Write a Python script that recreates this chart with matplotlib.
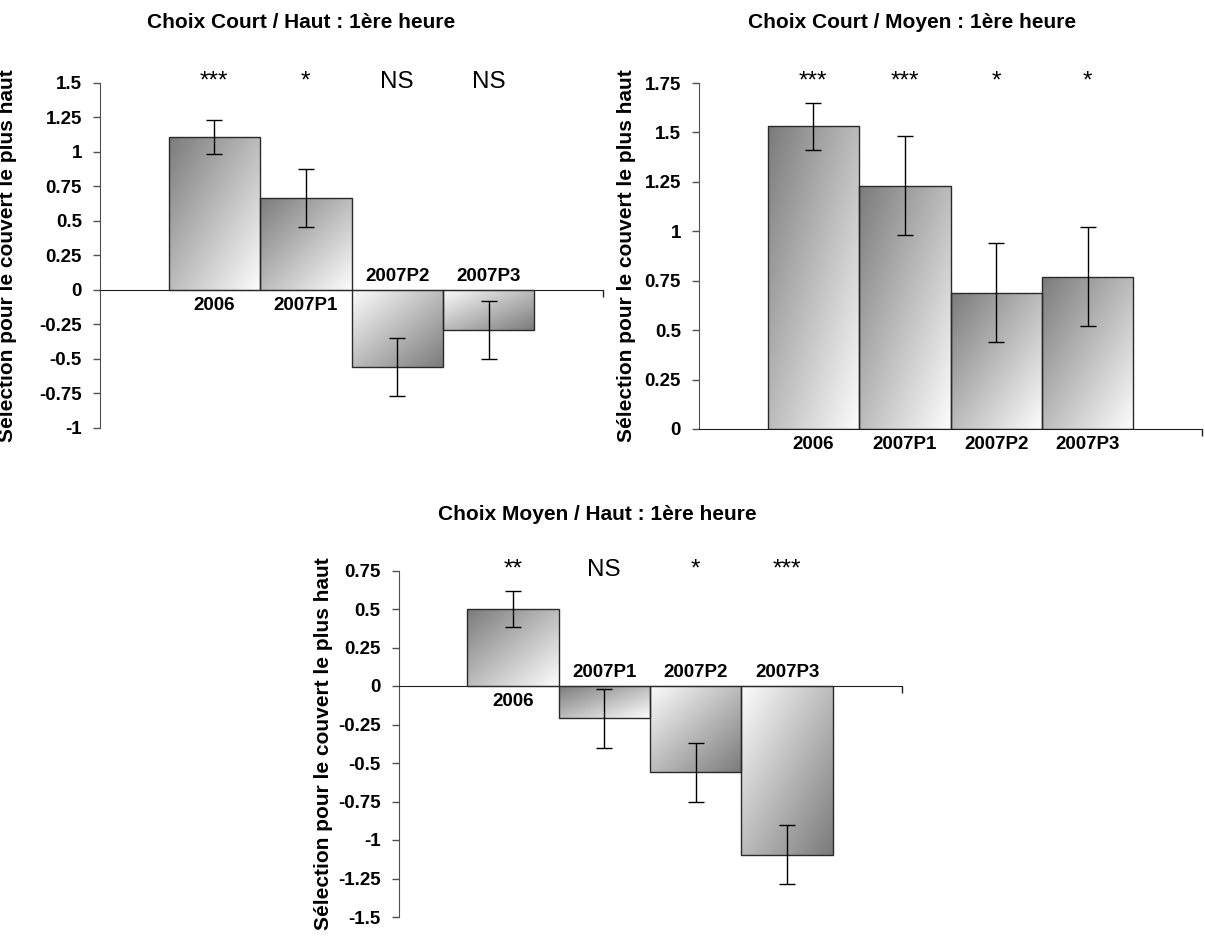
import numpy as np
import matplotlib.pyplot as plt
import matplotlib.transforms as mtransforms

plt.rcParams['font.family'] = ['Liberation Sans', 'DejaVu Sans']

# données
groups = ["2006", "2007P1", "2007P2", "2007P3"]
ylabel = "Sélection pour le couvert le plus haut"

court_haut = [1.11, 0.67, -0.555, -0.29]
court_haut_err = [0.125, 0.21, 0.21, 0.21]
court_haut_sig = ["***", "*", "NS", "NS"]

court_moyen = [1.53, 1.23, 0.69, 0.77]
court_moyen_err = [0.12, 0.25, 0.25, 0.25]
court_moyen_sig = ["***", "***", "*", "*"]

moyen_haut = [0.50, -0.21, -0.56, -1.095]
moyen_haut_err = [0.12, 0.19, 0.19, 0.19]
moyen_haut_sig = ["**", "NS", "*", "***"]


def gradient_fill(ax, bar, flip):
    x0, w = bar.get_x(), bar.get_width()
    y0, h = bar.get_y(), bar.get_height()
    bottom, top = min(y0, y0 + h), max(y0, y0 + h)
    u = np.linspace(0, 1, 200)
    gx, gy = np.meshgrid(u, u)
    t = (gx + gy) / 2
    if flip:
        t = 1 - t
    img = 0.48 + 0.51 * t
    im = ax.imshow(img, cmap="gray", vmin=0, vmax=1, origin="upper",
                   extent=(x0, x0 + w, bottom, top), aspect="auto",
                   interpolation="bilinear", zorder=2)
    im.set_clip_path(bar)


def draw_panel(ax, values, errors, sig, ylim, flips, title, title_x, title_y, label_x):
    x = np.arange(len(groups))
    bars = ax.bar(x, values, width=1.0, color="none", edgecolor="#2a2a2a",
                  linewidth=1.0, zorder=3)
    for bar, flip in zip(bars, flips):
        gradient_fill(ax, bar, flip)
    ax.errorbar(x, values, yerr=errors, fmt="none", ecolor="black",
                elinewidth=1.0, capsize=5.5, capthick=1.0, zorder=4)

    xlim = (-1.25, len(groups) + 0.25)
    ax.set_xlim(xlim)
    ax.set_ylim(ylim)
    ticks = np.arange(ylim[0], ylim[1] + 0.01, 0.25)
    ax.set_yticks(ticks)
    ax.set_yticklabels([f"{v:g}" for v in ticks])
    ax.set_xticks([xlim[1]])
    ax.set_xticklabels([])

    for s in ["top", "right"]:
        ax.spines[s].set_visible(False)
    ax.spines["bottom"].set_position(("data", 0))
    ax.spines["bottom"].set_color("#202020")
    ax.spines["left"].set_color("#505050")
    ax.tick_params(axis="y", direction="out", length=5, width=1, color="#505050",
                   pad=8, labelsize=13.5)
    ax.tick_params(axis="x", direction="out", length=5, width=1, color="#202020")
    for lab in ax.get_yticklabels():
        lab.set_fontweight("bold")

    for xi, v, g in zip(x, values, groups):
        off = -11 if v >= 0 else 10
        ax.annotate(g, (xi, 0), xytext=(0, off), textcoords="offset points",
                    ha="center", va="center", fontsize=13.5, fontweight="bold")

    trans = mtransforms.blended_transform_factory(ax.transData, ax.transAxes)
    for xi, s in zip(x, sig):
        ax.text(xi, 1 - 5 / 345, s, transform=trans, ha="center", va="baseline",
                fontsize=17.5)

    ax.text(title_x, title_y, title, transform=ax.transAxes, ha="center",
            va="center", fontsize=15, fontweight="bold")
    ax.set_ylabel(ylabel, fontsize=15, fontweight="bold")
    ax.yaxis.set_label_coords(label_x, 0.5)
    ax.patch.set_alpha(0)


fig = plt.figure(figsize=(12.05, 9.36), dpi=100)
W, H = 1205, 936

ax1 = fig.add_axes([100 / W, 1 - 428 / H, 503 / W, 345 / H])
ax2 = fig.add_axes([699 / W, 1 - 429 / H, 503 / W, 346 / H])
ax3 = fig.add_axes([398.5 / W, 1 - 917 / H, 503 / W, 346.5 / H])

draw_panel(ax1, court_haut, court_haut_err, court_haut_sig, (-1, 1.5),
           [False, False, True, True], "Choix Court / Haut : 1ère heure",
           0.40, 1 + 60 / 345, -0.165)
draw_panel(ax2, court_moyen, court_moyen_err, court_moyen_sig, (0, 1.75),
           [False, False, False, False], "Choix Court / Moyen : 1ère heure",
           0.423, 1 + 60 / 346, -0.125)
draw_panel(ax3, moyen_haut, moyen_haut_err, moyen_haut_sig, (-1.5, 0.75),
           [False, False, True, True], "Choix Moyen / Haut : 1ère heure",
           0.395, 1 + 55.5 / 346.5, -0.13)

fig.savefig("out.png", dpi=100)
